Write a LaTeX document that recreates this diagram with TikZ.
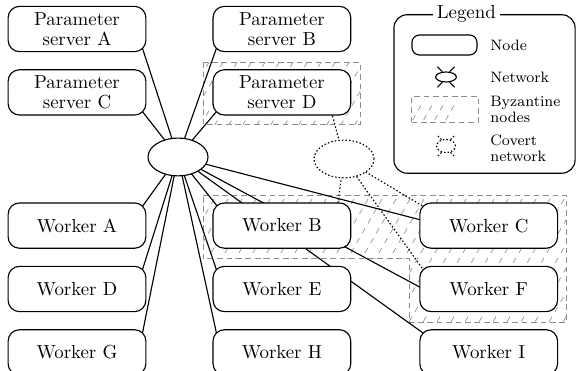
\documentclass[tikz,border=0pt]{standalone}
\usepackage{tikz}
\usetikzlibrary{shapes.geometric,positioning,calc,backgrounds}

\begin{document}
\begin{tikzpicture}[
    x=0.53pt, y=-0.53pt,
    node distance=9pt and 35pt,
    machine/.style={draw, line width=0.6pt, rounded corners=6pt, fill=white, align=center,
        minimum width=73pt, minimum height=24pt, inner sep=1pt, font=\fontsize{10}{10.6}\selectfont},
    network/.style={draw, ellipse, line width=0.6pt, fill=white, minimum width=31.8pt, minimum height=20pt, inner sep=0pt},
    link/.style={line width=0.6pt},
    covert/.style={line width=0.6pt, dash pattern=on 0.8pt off 1.1pt},
    byzborder/.style={draw=black!45, line width=0.5pt, dash pattern=on 3pt off 2pt},
    hatch/.style={black!40, line width=0.4pt, dash pattern=on 3pt off 3pt},
    legendtext/.style={font=\fontsize{8}{8.5}\selectfont, align=left, anchor=west, inner sep=0pt}
]
    \useasboundingbox (0,0) rectangle (577,371);

    % Parameter servers
    \node[machine] (psA) at (77,29) {Parameter\\server A};
    \node[machine, below=of psA] (psC) {Parameter\\server C};
    \node[machine, right=of psA] (psB) {Parameter\\server B};
    \node[machine, right=of psC] (psD) {Parameter\\server D};

    % Workers
    \node[machine, below=46pt of psC] (wA) {Worker A};
    \node[machine, below=of wA] (wD) {Worker D};
    \node[machine, below=of wD] (wG) {Worker G};
    \node[machine, right=of wA] (wB) {Worker B};
    \node[machine, right=of wD] (wE) {Worker E};
    \node[machine, right=of wG] (wH) {Worker H};
    \node[machine, right=36pt of wB] (wC) {Worker C};
    \node[machine, right=36pt of wE] (wF) {Worker F};
    \node[machine, right=36pt of wH] (wI) {Worker I};

    % Networks
    \node[network] (net) at (178,157) {};
    \node[network, dash pattern=on 0.8pt off 1.1pt] (cnet) at (344,159) {};

    \begin{scope}[on background layer]
        % Byzantine nodes
        \coordinate (bzD1) at ($(psD.north west)+(-9,-7)$);
        \coordinate (bzD2) at ($(psD.south east)+(9,9)$);
        \coordinate (bz1) at ($(wB.north west)+(-9,-7)$);
        \coordinate (bz2) at ($(wC.north east)+(8,-7)$);
        \coordinate (bz3) at ($(wF.south east)+(8,10)$);
        \coordinate (bz4) at ($(wF.south west)+(-10,10)$);
        \coordinate (bz5) at ($(bz4 |- wB.south)+(0,10)$);
        \coordinate (bz6) at ($(wB.south west)+(-9,10)$);
        \begin{scope}
            \clip (bzD1) rectangle (bzD2);
            \foreach \k in {-5,...,45} \draw[hatch] (\k*14,400) -- ++(231,-400);
        \end{scope}
        \begin{scope}
            \clip (bz1) -- (bz2) -- (bz3) -- (bz4) -- (bz5) -- (bz6) -- cycle;
            \foreach \k in {-5,...,45} \draw[hatch] (\k*14,400) -- ++(231,-400);
        \end{scope}
        \draw[byzborder] (bzD1) rectangle (bzD2);
        \draw[byzborder] (bz1) -- (bz2) -- (bz3) -- (bz4) -- (bz5) -- (bz6) -- cycle;

        % Connections
        \draw[link] (net.center) -- ($(psA.south east)+(-4,-4)$);
        \draw[link] (net.center) -- ($(psC.south east)+(-4,-4)$);
        \draw[link] (net.center) -- ($(psB.south west)+(4,-4)$);
        \draw[link] (net.center) -- ($(psD.south west)+(4,-4)$);
        \draw[link] (net.center) -- ($(wA.north east)+(-4,4)$);
        \draw[link] (net.center) -- ($(wD.north east)+(-4,4)$);
        \draw[link] (net.center) -- ($(wG.north east)+(-4,4)$);
        \draw[link] (net.center) -- ($(wB.north west)+(5,4)$);
        \draw[link] (net.center) -- ($(wE.north west)+(4,4)$);
        \draw[link] (net.center) -- ($(wH.north west)+(4,4)$);
        \draw[link] (net.center) -- ($(wC.west)+(4,-5)$);
        \draw[link] (net.center) -- ($(wF.west)+(4,0)$);
        \draw[link] (net.center) -- ($(wI.north west)+(4,4)$);

        % Covert connections
        \draw[covert] (cnet.center) -- ($(psD.south east)+(-20,-4)$);
        \draw[covert] (cnet.center) -- ($(wB.north east)+(-14,4)$);
        \draw[covert] (cnet.center) -- ($(wC.north west)+(4,4)$);
        \draw[covert] (cnet.center) -- ($(wF.north west)+(4,4)$);
    \end{scope}

    % Legend
    \node[draw, line width=0.6pt, rounded corners=7pt, minimum width=96pt, minimum height=84pt] (legend) at (484.5,94) {};
    \node[fill=white, inner sep=2pt, font=\fontsize{10}{12}\selectfont] (ltitle) at ($(legend.north west)+(73,0)$) {Legend};

    \node[draw, line width=0.6pt, rounded corners=4pt, minimum width=34.5pt, minimum height=10.6pt] (lnode) at (444.5,45) {};
    \node[legendtext] (lnodetext) at (490,45) {Node};

    \node[draw, ellipse, line width=0.6pt, minimum width=11pt, minimum height=5.3pt, inner sep=0pt] (lnet) at (446,77) {};
    \draw[link] (lnet.125) -- ++(-5,-5);
    \draw[link] (lnet.55) -- ++(5,-5);
    \draw[link] (lnet.-55) -- ++(5,5);
    \draw[link] (lnet.-125) -- ++(-5,5);
    \node[legendtext] (lnettext) at (490,77) {Network};

    \node[minimum width=35pt, minimum height=13.2pt, inner sep=0pt] (lbyz) at (445,109.5) {};
    \begin{scope}
        \clip (lbyz.south west) rectangle (lbyz.north east);
        \foreach \k in {28,...,40} \draw[hatch] (\k*11,130) -- ++(17,-30);
    \end{scope}
    \draw[byzborder] (lbyz.south west) rectangle (lbyz.north east);
    \node[legendtext] (lbyztext) at (490,109) {Byzantine\\nodes};

    \node[draw, ellipse, covert, minimum width=10pt, minimum height=7pt, inner sep=0pt] (lcnet) at (446,146) {};
    \draw[covert] (lcnet.125) -- ++(-5,-5);
    \draw[covert] (lcnet.55) -- ++(5,-5);
    \draw[covert] (lcnet.-55) -- ++(5,5);
    \draw[covert] (lcnet.-125) -- ++(-5,5);
    \node[legendtext] (lcnettext) at (490,148) {Covert\\network};
\end{tikzpicture}
\end{document}
